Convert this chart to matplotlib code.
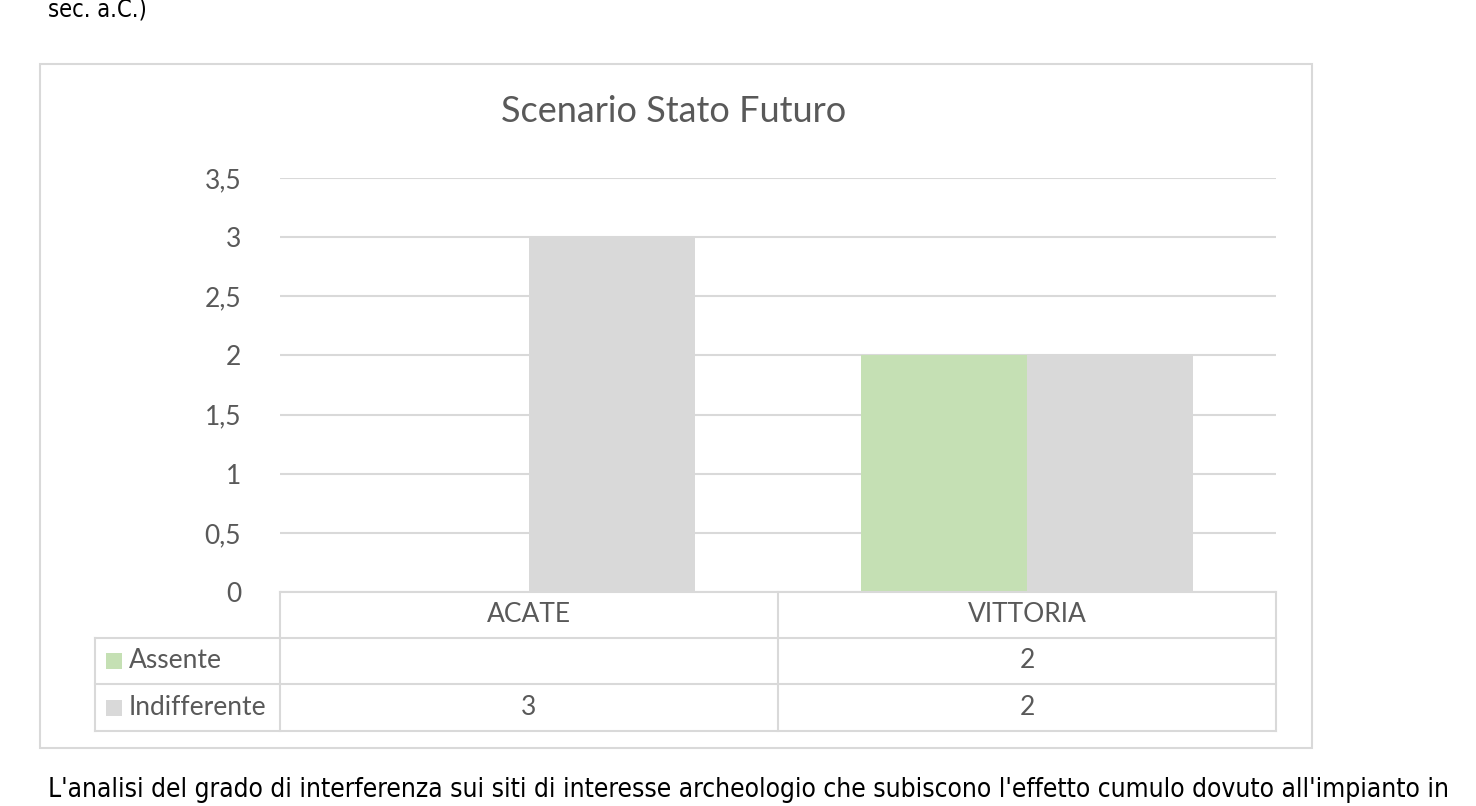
import numpy as np
import matplotlib
matplotlib.use("Agg")
import matplotlib.pyplot as plt
from matplotlib.lines import Line2D
from matplotlib.patches import Rectangle
from matplotlib import transforms

# data
categories = ["ACATE", "VITTORIA"]
series = ["Assente", "Indifferente"]
assente = [None, 2]
indifferente = [3, 2]
yticks = [0, 0.5, 1, 1.5, 2, 2.5, 3, 3.5]
title = "Scenario Stato Futuro"

colors = ["#C5E0B4", "#D9D9D9"]
grid_col = "#D9D9D9"
txt_col = "#595959"

W, H = 1476, 806
plt.rcParams['font.family'] = ['Lato', 'DejaVu Sans']


def fx(x):
    return x / W


def fy(y):
    return 1 - y / H


fig = plt.figure(figsize=(W / 100, H / 100), dpi=100)

# chart frame
fig.add_artist(Rectangle((fx(40), fy(748)), fx(1312) - fx(40), fy(64) - fy(748),
                         transform=fig.transFigure, fill=False,
                         edgecolor=grid_col, linewidth=1.5))

ax = fig.add_axes([fx(280), fy(592), fx(1276) - fx(280), fy(178) - fy(592)])
ax.patch.set_alpha(0)
for s in ax.spines.values():
    s.set_visible(False)

x = np.arange(len(categories)) + 0.5
bw = 1 / 3
vals = [[0 if v is None else v for v in assente], indifferente]
for k, v in enumerate(vals):
    ax.bar(x + (k - 0.5) * bw, v, width=bw, color=colors[k], zorder=3)

ax.set_xlim(0, len(categories))
ax.set_ylim(0, 3.5)
ax.set_yticks(yticks)
ax.set_yticklabels([str(t).replace(".", ",").replace(",0", "") for t in yticks])
ax.set_xticks([])
ax.tick_params(axis="y", length=0, pad=28, labelsize=19, labelcolor=txt_col)
ax.grid(axis="y", color=grid_col, linewidth=1.5, zorder=0)
ax.set_axisbelow(True)

fig.text(fx(674), fy(112), title, ha="center", va="center",
         fontsize=26, color=txt_col)

# data table under the plot
bt = transforms.blended_transform_factory(ax.transData, fig.transFigure)
rows_y = [592, 638, 684, 731]
lw = 1.5
fig.add_artist(Line2D([fx(280), fx(1276)], [fy(592)] * 2, transform=fig.transFigure,
                      color=grid_col, linewidth=lw))
for yy in rows_y[1:]:
    fig.add_artist(Line2D([fx(95), fx(1276)], [fy(yy)] * 2, transform=fig.transFigure,
                          color=grid_col, linewidth=lw))
for xd in range(len(categories) + 1):
    fig.add_artist(Line2D([xd, xd], [fy(592), fy(731)], transform=bt,
                          color=grid_col, linewidth=lw))
fig.add_artist(Line2D([fx(95)] * 2, [fy(638), fy(731)], transform=fig.transFigure,
                      color=grid_col, linewidth=lw))

for i, c in enumerate(categories):
    fig.text(x[i], fy(615), c, transform=bt, ha="center", va="center",
             fontsize=19, color=txt_col)

table_vals = [assente, indifferente]
for k, name in enumerate(series):
    yc = (rows_y[k + 1] + rows_y[k + 2]) / 2
    fig.add_artist(Rectangle((fx(106), fy(yc + 8)), fx(16), fy(0) - fy(16),
                             transform=fig.transFigure, color=colors[k], linewidth=0))
    fig.text(fx(129), fy(yc), name, ha="left", va="center", fontsize=19, color=txt_col)
    for i, v in enumerate(table_vals[k]):
        if v is not None:
            fig.text(x[i], fy(yc), str(v), transform=bt, ha="center", va="center",
                     fontsize=19, color=txt_col)

# surrounding document text
fig.text(fx(48), fy(17), "sec. a.C.)", ha="left", va="baseline",
         fontsize=17, color="black", family="DejaVu Sans", fontstretch="condensed")
fig.text(fx(48), fy(797), "L'analisi del grado di interferenza sui siti di interesse archeologio "
         "che subiscono l'effetto cumulo dovuto all'impianto in",
         ha="left", va="baseline", fontsize=18.9, color="black",
         family="DejaVu Sans", fontstretch="condensed")

fig.savefig("out.png", dpi=100)
